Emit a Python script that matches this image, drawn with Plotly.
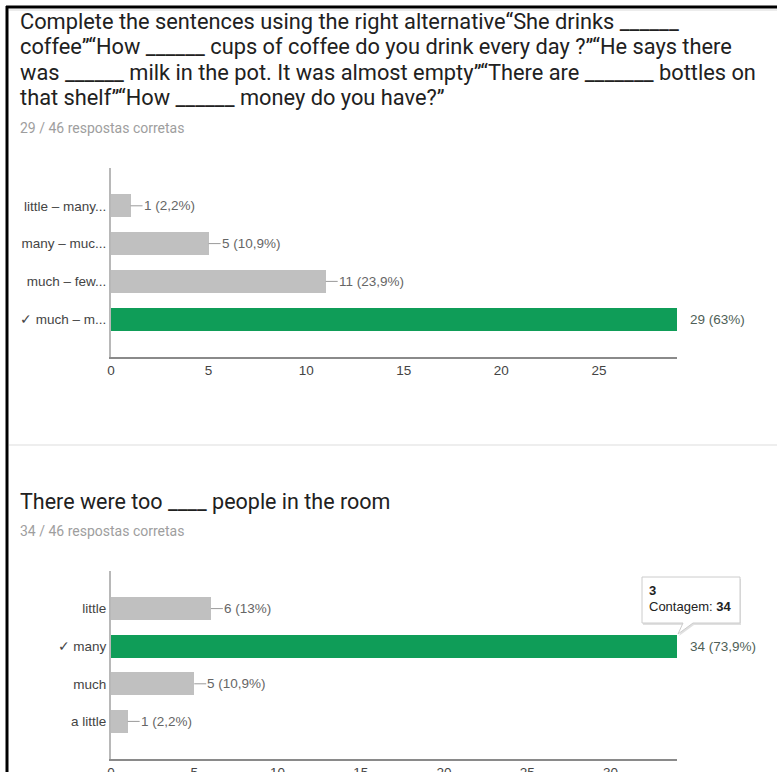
import plotly.graph_objects as go

W, H = 777, 772

# ---------------- data ----------------
q1_title_lines = [
    "Complete the sentences using the right alternative“She drinks ______",
    "coffee”“How ______ cups of coffee do you drink every day ?”“He says there",
    "was ______ milk in the pot. It was almost empty”“There are _______ bottles on",
    "that shelf”“How ______ money do you have?”",
]
q1_subtitle = "29 / 46 respostas corretas"
q1_categories = ["little – many...", "many – muc...", "much – few...", "✓ much – m..."]
q1_counts = [1, 5, 11, 29]
q1_pct = ["2,2%", "10,9%", "23,9%", "63%"]
q1_correct = 3
q1_ticks = [0, 5, 10, 15, 20, 25]

q2_title = "There were too ____ people in the room"
q2_subtitle = "34 / 46 respostas corretas"
q2_categories = ["little", "✓ many", "much", "a little"]
q2_counts = [6, 34, 5, 1]
q2_pct = ["13%", "73,9%", "10,9%", "2,2%"]
q2_correct = 1
q2_ticks = [0, 5, 10, 15, 20, 25, 30]

tooltip_lines = ["<b>3</b>", "Contagem: <b>34</b>"]

GREEN = "#0f9d58"
GRAY = "#c0c0c0"
CHART_FONT = "Liberation Sans, Arial, sans-serif"
TITLE_FONT = "Roboto, Arial, sans-serif"
CF = 13.5
TF = 21.8


def px(x):
    return x / W


def py(y):
    return 1 - y / H


fig = go.Figure()
annotations = []
shapes = []


def add_chart(idx, cats, counts, pcts, correct, ticks, top, bottom):
    xa = "x" if idx == 1 else f"x{idx}"
    ya = "y" if idx == 1 else f"y{idx}"
    colors = [GREEN if i == correct else GRAY for i in range(len(cats))]
    fig.add_trace(go.Bar(
        x=counts, y=cats, orientation="h", marker=dict(color=colors, line=dict(width=0)),
        width=0.61, xaxis=xa, yaxis=ya, showlegend=False, hoverinfo="skip",
    ))
    xmax = max(counts)
    axis_suffix = "" if idx == 1 else str(idx)
    fig.layout["xaxis" + axis_suffix] = dict(
        domain=[px(111), px(677)], range=[0, xmax], anchor=ya, automargin=False,
        tickvals=ticks, ticks="", showgrid=False, zeroline=False,
        showline=True, linecolor="#8a8a8a", linewidth=2,
        tickfont=dict(family=CHART_FONT, size=CF, color="#444"),
        fixedrange=True,
    )
    fig.layout["yaxis" + axis_suffix] = dict(
        domain=[py(bottom), py(top)], type="category", categoryorder="array",
        categoryarray=cats, range=[len(cats), -1], anchor=xa, automargin=False,
        ticks="", showgrid=False, zeroline=False,
        showline=True, linecolor="#b8b8b8", linewidth=2,
        tickfont=dict(family=CHART_FONT, size=CF, color="#444"),
        fixedrange=True,
    )
    for i, (c, v, p) in enumerate(zip(cats, counts, pcts)):
        label = f"{v} ({p})"
        if i == correct:
            annotations.append(dict(
                x=v, y=c, xref=xa, yref=ya, text=label, showarrow=False,
                xanchor="left", xshift=11, font=dict(family=CHART_FONT, size=CF, color="#4f5f57"),
            ))
        else:
            shapes.append(dict(
                type="line", xref=xa, yref=ya, xsizemode="pixel", xanchor=v,
                x0=0, x1=12, y0=i, y1=i, line=dict(color="#9a9a9a", width=1),
            ))
            annotations.append(dict(
                x=v, y=c, xref=xa, yref=ya, text=label, showarrow=False,
                xanchor="left", xshift=11, font=dict(family=CHART_FONT, size=CF, color="#666"),
            ))


add_chart(1, q1_categories, q1_counts, q1_pct, q1_correct, q1_ticks, 168, 357)
add_chart(2, q2_categories, q2_counts, q2_pct, q2_correct, q2_ticks, 571, 759)

# titles
TX = 18
for k, line in enumerate(q1_title_lines):
    annotations.append(dict(
        x=px(TX), y=py(22 + 25 * k), xref="paper", yref="paper", text=line, showarrow=False,
        xanchor="left", yanchor="middle", font=dict(family=TITLE_FONT, size=TF, color="#212121"),
    ))
annotations.append(dict(
    x=px(TX), y=py(128), xref="paper", yref="paper", text=q1_subtitle, showarrow=False,
    xanchor="left", yanchor="middle", font=dict(family=TITLE_FONT, size=14, color="#9e9e9e"),
))
annotations.append(dict(
    x=px(TX), y=py(501), xref="paper", yref="paper", text=q2_title, showarrow=False,
    xanchor="left", yanchor="middle", font=dict(family=TITLE_FONT, size=21.5, color="#212121"),
))
annotations.append(dict(
    x=px(TX), y=py(531), xref="paper", yref="paper", text=q2_subtitle, showarrow=False,
    xanchor="left", yanchor="middle", font=dict(family=TITLE_FONT, size=14, color="#9e9e9e"),
))

# tooltip
def path(pts, dx=0, dy=0):
    s = "M " + " L ".join(f"{px(x + dx)},{py(y + dy)}" for x, y in pts) + " Z"
    return s

tip_pts = [(642, 577), (740, 577), (740, 623), (693, 623), (678, 634), (683, 623), (642, 623)]
shapes.append(dict(type="path", xref="paper", yref="paper", path=path(tip_pts, 1, 2),
                   fillcolor="rgba(0,0,0,0.12)", line=dict(width=0), layer="above"))
shapes.append(dict(type="path", xref="paper", yref="paper", path=path(tip_pts),
                   fillcolor="white", line=dict(color="#cccccc", width=1), layer="above"))
for k, t in enumerate(tooltip_lines):
    annotations.append(dict(
        x=px(647), y=py(590 + 16 * k), xref="paper", yref="paper", text=t, showarrow=False,
        xanchor="left", yanchor="middle", font=dict(family=CHART_FONT, size=13, color="#222"),
    ))

# frame lines
shapes.append(dict(type="line", xref="paper", yref="paper", x0=px(6), x1=1, y0=py(7), y1=py(7),
                   line=dict(color="black", width=3), layer="above"))
shapes.append(dict(type="line", xref="paper", yref="paper", x0=px(7), x1=px(7), y0=py(6), y1=-0.02,
                   line=dict(color="black", width=3), layer="above"))
shapes.append(dict(type="line", xref="paper", yref="paper", x0=px(9), x1=1, y0=py(10), y1=py(10),
                   line=dict(color="#ececec", width=2), layer="below"))
shapes.append(dict(type="line", xref="paper", yref="paper", x0=px(9), x1=1, y0=py(445), y1=py(445),
                   line=dict(color="#eeeeee", width=2), layer="below"))

fig.update_layout(
    template="none",
    width=W, height=H, autosize=False, margin=dict(l=0, r=0, t=0, b=0, pad=0),
    paper_bgcolor="white", plot_bgcolor="white",
    annotations=annotations, shapes=shapes, bargap=0,
)

fig.write_html(
    "out.html",
    config={"displayModeBar": False, "responsive": False},
    post_script="document.body.style.margin='0';document.body.style.overflow='hidden';",
)
